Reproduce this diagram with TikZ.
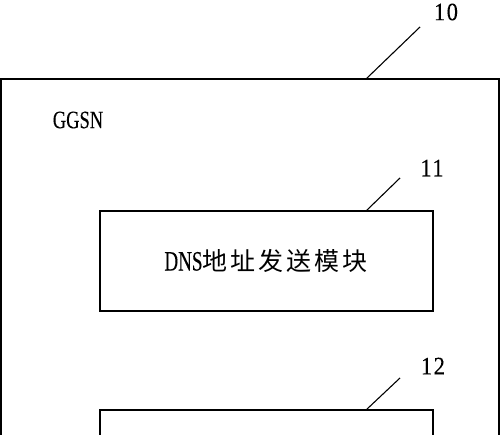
\documentclass[tikz,border=0pt]{standalone}
\usepackage{fontspec}
\setmainfont{Liberation Serif}
\newfontfamily\latcond[FakeStretch=0.74,FakeBold=0.2]{Liberation Serif}
\newfontfamily\latdns[FakeStretch=0.68,FakeBold=0.2]{Liberation Serif}
\newfontfamily\numfont[LetterSpace=6,FakeStretch=0.9,FakeBold=0.15]{Liberation Serif}
\newfontfamily\cjk[LetterSpace=12]{Noto Sans CJK SC}
\begin{document}
\begin{tikzpicture}[x=1pt,y=-1pt,
  frame/.style={draw,line width=1.3pt,inner sep=0pt},
  leader/.style={draw,line width=1.1pt},
  reflabel/.style={inner sep=0pt,font=\numfont\fontsize{25}{27}\selectfont}]
\clip (0,0) rectangle (500,435);
\fill[white] (0,0) rectangle (500,435);
% outer GGSN box (extends below the picture)
\node[frame,minimum width=498pt,minimum height=400pt] (ggsn) at (250,279) {};
\node[inner sep=0pt,font=\latcond\fontsize{25}{27}\selectfont] (ggsnt) at (78,120) {GGSN};
% module 11
\node[frame,minimum width=333pt,minimum height=100pt] (m11) at (266.5,261) {};
\node[inner sep=0pt] (m11t) at (266,261) {{\latdns\fontsize{28}{30}\selectfont DNS}{\cjk\fontsize{25}{27}\selectfont 地址发送模块}};
% module 12 (extends below the picture)
\node[frame,minimum width=333pt,minimum height=100pt] (m12) at (266.5,460) {};
% reference labels
\node[reflabel] (l10) at (446,12) {10};
\node[reflabel] (l11) at (432,168) {11};
\node[reflabel] (l12) at (433,366) {12};
\coordinate (p10) at (366,79);
\coordinate (q10) at (420,27);
\coordinate (p11) at (366,211);
\coordinate (q11) at (400,178);
\coordinate (p12) at (366,410);
\coordinate (q12) at (400,378);
\draw[leader] (p10) -- (q10);
\draw[leader] (p11) -- (q11);
\draw[leader] (p12) -- (q12);
\end{tikzpicture}
\end{document}
